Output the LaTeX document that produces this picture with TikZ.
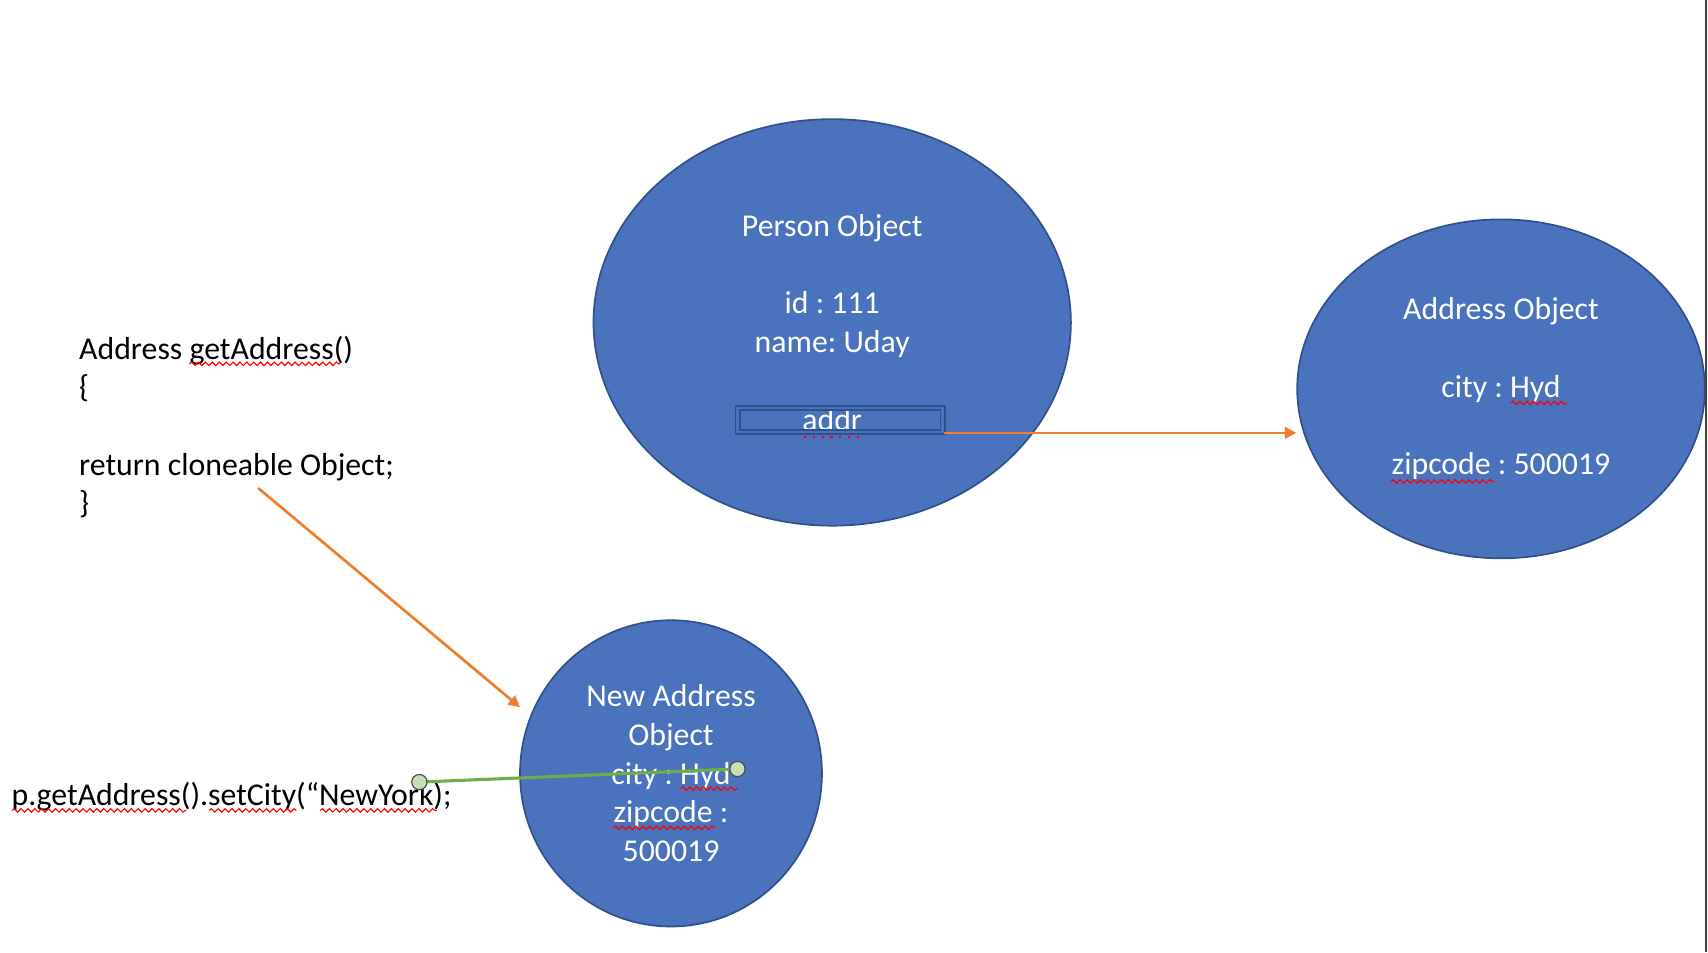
\documentclass[tikz,border=0pt]{standalone}
\usepackage{fontspec}
\setmainfont{Carlito}
\frenchspacing
\usetikzlibrary{shapes.geometric,arrows.meta,decorations.pathmorphing}

\definecolor{objfill}{HTML}{4B72BC}
\definecolor{objline}{HTML}{2F528F}
\definecolor{refline}{HTML}{ED7D31}
\definecolor{greenline}{HTML}{70AD47}
\definecolor{knobfill}{HTML}{C5E0B4}

\tikzset{objet/.style = {ellipse, draw = objline, line width = 0.45pt, fill = objfill, text = white, align = center, inner sep = 0pt},
         ref/.style = {draw = refline, line width = 0.7pt, -{Triangle[length = 3pt, width = 3pt]}},
         faute/.style = {red, line width = 0.3pt, decorate, decoration = {snake, amplitude = 0.45pt, segment length = 1.8pt}},
         knob/.style = {circle, draw = black!70, line width = 0.3pt, fill = knobfill, minimum size = 0.14cm, inner sep = 0pt}
        }

\begin{document}
\begin{tikzpicture}[x = 0.01cm, y = -0.01cm, every node/.style = {font = \fontsize{8.3pt}{10.1pt}\selectfont}]
\useasboundingbox (0,0) rectangle (1568,874);
\node[objet, minimum width = 4.38cm, minimum height = 3.73cm] (person) at (764,296) {Person Object\\[10.1pt]id : 111\\name: Uday\\[10.1pt]addr};
\node[objet, minimum width = 3.74cm, minimum height = 3.11cm] (address) at (1378,357) {Address Object\\[10.1pt]city : Hyd\\[10.1pt]zipcode : 500019};
\node[objet, minimum width = 2.77cm, minimum height = 2.81cm] (newaddr) at (616,710) {New Address\\Object\\city : Hyd\\zipcode :\\500019};
\node[draw = objline, double = objfill, double distance = 0.7pt, line width = 0.45pt, minimum width = 1.88cm, minimum height = 0.22cm, inner sep = 0pt] (addrbox) at (771.4,385.6) {};
\node[anchor = west, align = left, inner sep = 0pt] (code) at (72,392) {Address getAddress()\\\{\\[10.1pt]return cloneable Object;\\\}};
\node[anchor = west, inner sep = 0pt] (call) at (10,731) {p.getAddress().setCity(“NewYork);};
\coordinate (retA) at (237,448);
\coordinate (retB) at (477.4,649.3);
\draw[ref] (addrbox.south east) -- (addrbox.south east -| address.west);
\draw[ref] (retA) -- (retB);
\coordinate (gA) at (385,718);
\coordinate (gB) at (677,706);
\draw[greenline, line width = 0.8pt] (gA) -- (gB);
\node[knob] (hA) at (gA) {};
\node[knob] (hB) at (gB) {};
\foreach \xa/\xb/\ya in {174/312/334, 1387/1439/370, 1277/1372/442, 625/677/724, 563/657/760, 11/171/744, 192/272/744, 294/401/744}
   \draw[faute] (\xa,\ya) -- (\xb,\ya);
\draw[red, line width = 0.6pt, dash pattern = on 0.6pt off 1.7pt] (738,401) -- (792,401);
\draw[black!75, line width = 0.55pt] (1566.5,0) -- (1566.5,874);
\end{tikzpicture}
\end{document}
